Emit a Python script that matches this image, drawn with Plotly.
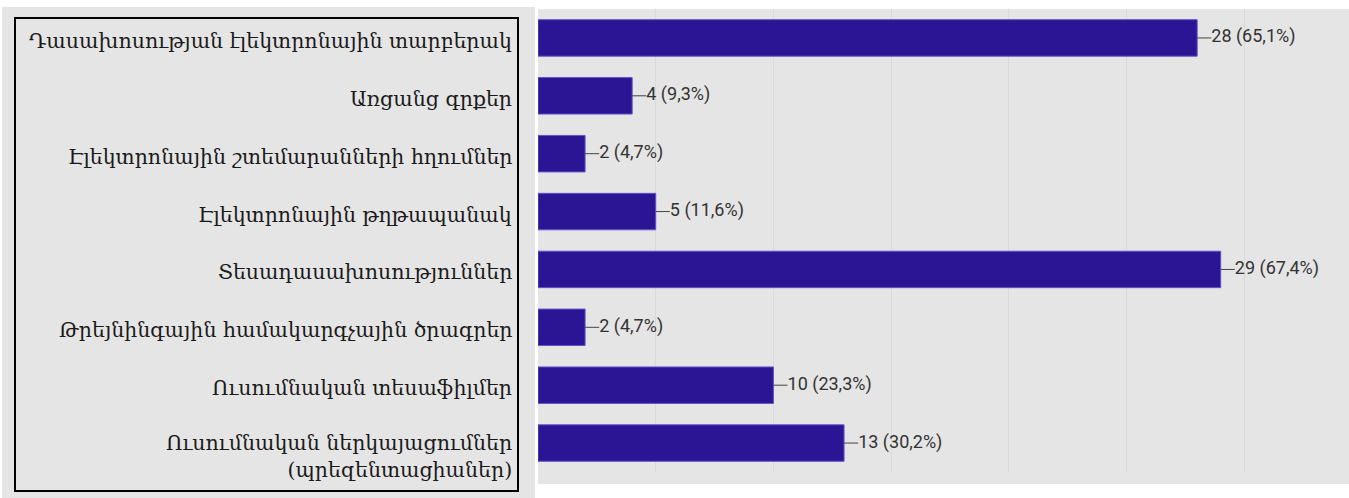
import plotly.graph_objects as go

categories = [
    "Դասախոսության էլեկտրոնային տարբերակ",
    "Առցանց գրքեր",
    "Էլեկտրոնային շտեմարանների հղումներ",
    "Էլեկտրոնային թղթապանակ",
    "Տեսադասախոսություններ",
    "Թրեյնինգային համակարգչային ծրագրեր",
    "Ուսումնական տեսաֆիլմեր",
    "Ուսումնական ներկայացումներ<br>(պրեզենտացիաներ)",
]
counts = [28, 4, 2, 5, 29, 2, 10, 13]
percents = ["65,1%", "9,3%", "4,7%", "11,6%", "67,4%", "4,7%", "23,3%", "30,2%"]

W, H = 1349, 498
L, R, T, B = 538, 0, 9, 26
pw, ph = W - L - R, H - T - B


def px(x):
    return (x - L) / pw


def py(y):
    return (H - B - y) / ph


fig = go.Figure()
fig.add_trace(go.Bar(
    x=counts, y=categories, orientation="h", width=0.63,
    marker=dict(color="#2c1594", line=dict(color="#6152c8", width=1)),
    hoverinfo="skip", showlegend=False,
))

# leader ticks and value labels
for c, n, p in zip(categories, counts, percents):
    fig.add_trace(go.Scatter(
        x=[n, n + 0.6], y=[c, c], mode="lines",
        line=dict(color="#444444", width=1), hoverinfo="skip", showlegend=False,
    ))
fig.add_trace(go.Scatter(
    x=[n + 0.6 for n in counts], y=categories, mode="text",
    text=[f"{n} ({p})" for n, p in zip(counts, percents)],
    textposition="middle right",
    textfont=dict(family="Roboto, sans-serif", size=18, color="#333333"),
    hoverinfo="skip", showlegend=False,
))

# category labels, right aligned inside the framed panel
annotations = []
for c in categories:
    annotations.append(dict(
        x=px(514), xref="paper", y=c, yref="y", xanchor="right", yanchor="middle",
        text=c, align="right", showarrow=False,
        yshift=-13 if "<br>" in c else -3,
        font=dict(family="DejaVu Serif, serif", size=20.5, color="#1a1a1a"),
    ))

shapes = [
    # left panel background
    dict(type="rect", xref="paper", yref="paper", x0=px(2), x1=px(535), y0=py(498), y1=py(7),
         fillcolor="#e5e5e5", line=dict(width=0), layer="below"),
    # strip under plot area
    dict(type="rect", xref="paper", yref="paper", x0=0, x1=1, y0=py(484), y1=0,
         fillcolor="#e5e5e5", line=dict(width=0), layer="below"),
    # black frame around labels
    dict(type="rect", xref="paper", yref="paper", x0=px(15), x1=px(518), y0=py(491), y1=py(18),
         line=dict(color="#000000", width=2), fillcolor="rgba(0,0,0,0)"),
]

fig.update_layout(
    width=W, height=H,
    margin=dict(l=L, r=R, t=T, b=B),
    paper_bgcolor="#ffffff",
    plot_bgcolor="#e5e5e5",
    shapes=shapes,
    annotations=annotations,
    xaxis=dict(range=[0, 34.45], dtick=5, showticklabels=False, showgrid=True,
               gridcolor="#d9d9d9", gridwidth=1, zeroline=False, showline=False),
    yaxis=dict(autorange="reversed", showgrid=False, zeroline=False, showline=False,
               showticklabels=False, ticks=""),
)

fig.write_html("out.html", config={"displayModeBar": False},
               post_script="document.body.style.margin='0';")
